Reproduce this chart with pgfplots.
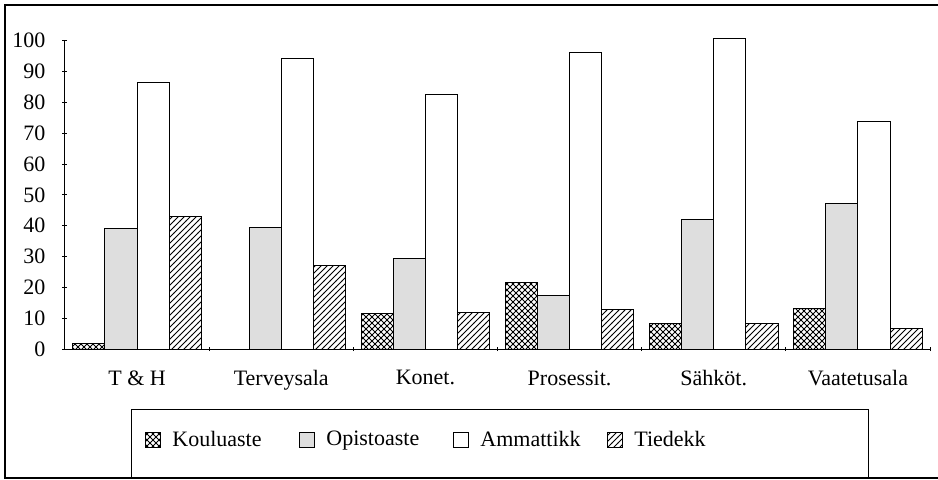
\documentclass[border=0pt]{standalone}
\usepackage{fontspec}
\setmainfont{Liberation Serif}
\usepackage{pgfplots}
\pgfplotsset{compat=1.18}
\usetikzlibrary{patterns}

% one reference pixel = 0.5pt; origin = lower left corner of the axis
\begin{document}
\begin{tikzpicture}
\useasboundingbox (-32.5pt,-65pt) rectangle (436.5pt,174.5pt);
\begin{axis}[
    at={(0pt,0pt)}, anchor=south west,
    scale only axis,
    width=432.5pt, height=154.15pt,
    xmin=-0.5, xmax=5.5,
    ymin=0, ymax=100,
    axis lines=left,
    axis line style={-, line width=0.5pt},
    ybar=0pt, bar width=16.1pt,
    ytick={0,10,...,100},
    xtick={0,...,5},
    xticklabels={T \& H, Terveysala, Konet., Prosessit., Sähköt., Vaatetusala},
    major x tick style={draw=none},
    minor xtick={0.5,1.5,2.5,3.5,4.5,5.5},
    minor tick length=2pt,
    major tick length=2.5pt,
    tick align=center,
    tick style={black, line width=0.4pt},
    clip=false,
    tick label style={font=\fontsize{11}{13}\selectfont},
    /pgf/number format/assume math mode=true,
    xticklabel style={yshift=-6pt},
    yticklabel style={xshift=-5pt},
    every axis plot/.append style={draw=black, line width=0.5pt},
    legend columns=4,
    legend cell align=left,
    legend image code/.code={\draw[#1] (0pt,-3.75pt) rectangle (7.5pt,3.75pt);},
    legend style={
        draw=none, fill=none,
        at={(0.0925,-0.2952)}, anchor=west,
        inner sep=0pt, column sep=0pt,
        font=\fontsize{11}{13}\selectfont,
    },
]

% Kouluaste
\addplot[pattern=north east lines, postaction={pattern=north west lines}]
  coordinates {(0,1.7) (1,0) (2,11.6) (3,21.5) (4,8.3) (5,13.3)};
\addlegendentry{\hspace{3.5pt}\makebox[61.5pt][l]{Kouluaste}}

% Opistoaste
\addplot[fill=black!13]
  coordinates {(0,39) (1,39.4) (2,29.4) (3,17.3) (4,41.9) (5,47.1)};
\addlegendentry{\hspace{3.5pt}\makebox[61.5pt][l]{Opistoaste}}

% Ammattikk
\addplot[fill=white]
  coordinates {(0,86.5) (1,94.2) (2,82.7) (3,96.3) (4,100.7) (5,73.7)};
\addlegendentry{\hspace{3.5pt}\makebox[61.5pt][l]{Ammattikk}}

% Tiedekk
\addplot[pattern=north east lines]
  coordinates {(0,43) (1,27.2) (2,11.7) (3,12.9) (4,8.3) (5,6.6)};
\addlegendentry{\hspace{3.5pt}\makebox[40pt][l]{Tiedekk}}

\end{axis}

% outer frame (no right side in the reference)
\draw[line width=0.6pt] (436.5pt,172pt) -- (-30pt,172pt) -- (-30pt,-64.5pt) -- (436.5pt,-64.5pt);
% legend box
\draw[line width=0.5pt] (33pt,-30pt) rectangle (401.5pt,-64pt);
\end{tikzpicture}
\end{document}
